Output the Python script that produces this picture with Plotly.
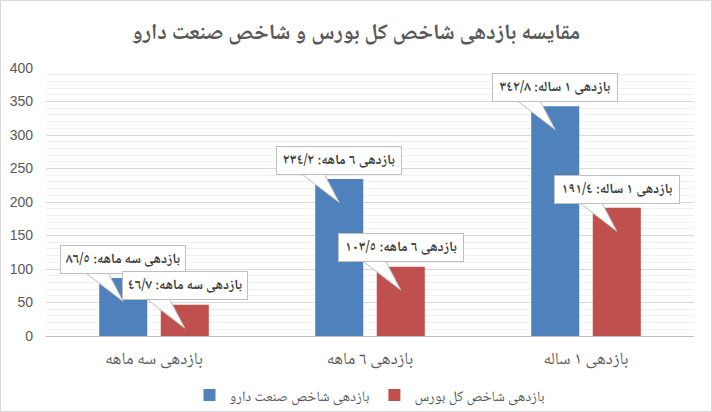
import plotly.graph_objects as go

categories = ["بازدهی سه ماهه", "بازدهی ٦ ماهه", "بازدهی ١ ساله"]
series_names = ["بازدهی شاخص صنعت دارو", "بازدهی شاخص کل بورس"]
drug_values = [86.5, 234.2, 342.8]
market_values = [46.7, 103.5, 191.4]
drug_labels = ["بازدهی سه ماهه: ٨٦/٥", "بازدهی ٦ ماهه: ٢٣٤/٢", "بازدهی ١ ساله: ٣٤٢/٨"]
market_labels = ["بازدهی سه ماهه: ٤٦/٧", "بازدهی ٦ ماهه: ١٠٣/٥", "بازدهی ١ ساله: ١٩١/٤"]
y_ticks = [0, 50, 100, 150, 200, 250, 300, 350, 400]

colors = ["#4F81BD", "#C0504D"]
BARGAP = 0.43
GROUPGAP = 0.22
FONT_AR = "Noto Naskh Arabic, Noto Sans Arabic, DejaVu Sans"
TXT = "#595959"
ML, MR, MT, MB = 46, 18, 68, 76
PW, PH = 712 - ML - MR, 412 - MT - MB

xs = list(range(len(categories)))
fig = go.Figure()
for name, vals, col in zip(series_names, [drug_values, market_values], colors):
    fig.add_trace(go.Bar(x=xs, y=vals, name=name, marker=dict(color=col, line=dict(width=0))))

off = (1 - BARGAP) / 4
shapes = []
annotations = []
for sign, vals, labels in [(-1, drug_values, drug_labels), (1, market_values, market_labels)]:
    for i, (v, lab) in enumerate(zip(vals, labels)):
        cx = i + sign * off
        box_bottom = v + 8
        tip = v - 35
        shapes.append(dict(
            type="path", xref="x", yref="y",
            path=f"M {cx-0.175},{box_bottom} L {cx},{tip} L {cx-0.07},{box_bottom} Z",
            fillcolor="white", line=dict(color="#BFBFBF", width=1), layer="above"))
        annotations.append(dict(
            x=cx, y=v + 28, xref="x", yref="y", text="<b>" + lab + "</b>", showarrow=False,
            font=dict(family=FONT_AR, size=14, color="#404040"),
            bgcolor="white", bordercolor="#BFBFBF", borderwidth=1, borderpad=4,
            width=116, height=19))

# outer border
shapes.append(dict(type="rect", xref="paper", yref="paper",
                   x0=-(ML - 0.5) / PW, x1=1 + (MR - 0.5) / PW,
                   y0=-(MB - 0.5) / PH, y1=1 + (MT - 0.5) / PH,
                   line=dict(color="#D9D9D9", width=1), layer="below"))

fig.update_layout(
    width=712, height=412,
    margin=dict(l=ML, r=MR, t=MT, b=MB, autoexpand=False),
    paper_bgcolor="white", plot_bgcolor="white",
    barmode="group", bargap=BARGAP, bargroupgap=GROUPGAP,
    title=dict(text="<b>مقایسه بازدهی شاخص کل بورس و شاخص صنعت دارو</b>",
               x=0.5, xanchor="center", y=1 - 31 / 412, yref="container", yanchor="middle",
               font=dict(family=FONT_AR, size=22, color=TXT)),
    xaxis=dict(tickmode="array", tickvals=xs, ticktext=categories, range=[-0.5, 2.5],
               showgrid=False, zeroline=False, showline=False, ticks="", automargin=False,
               ticklabelstandoff=10,
               tickfont=dict(family=FONT_AR, size=17, color=TXT)),
    yaxis=dict(range=[0, 400], tickmode="array", tickvals=y_ticks, automargin=False,
               showgrid=True, gridcolor="#D9D9D9", gridwidth=1,
               zeroline=True, zerolinecolor="#BFBFBF", zerolinewidth=1,
               showline=False, ticks="", ticklabelstandoff=12,
               minor=dict(dtick=10, showgrid=True, gridcolor="#F0F0F0", gridwidth=1),
               tickfont=dict(family="Liberation Sans", size=14, color=TXT)),
    legend=dict(orientation="h", x=0.5, xanchor="center", y=-(395 - 336) / PH, yanchor="middle",
                font=dict(family=FONT_AR, size=14.5, color=TXT), itemwidth=30),
    shapes=shapes, annotations=annotations,
)
fig.write_html("out.html", config={"displayModeBar": False},
               post_script="document.body.style.margin='0';document.body.style.overflow='hidden';")
